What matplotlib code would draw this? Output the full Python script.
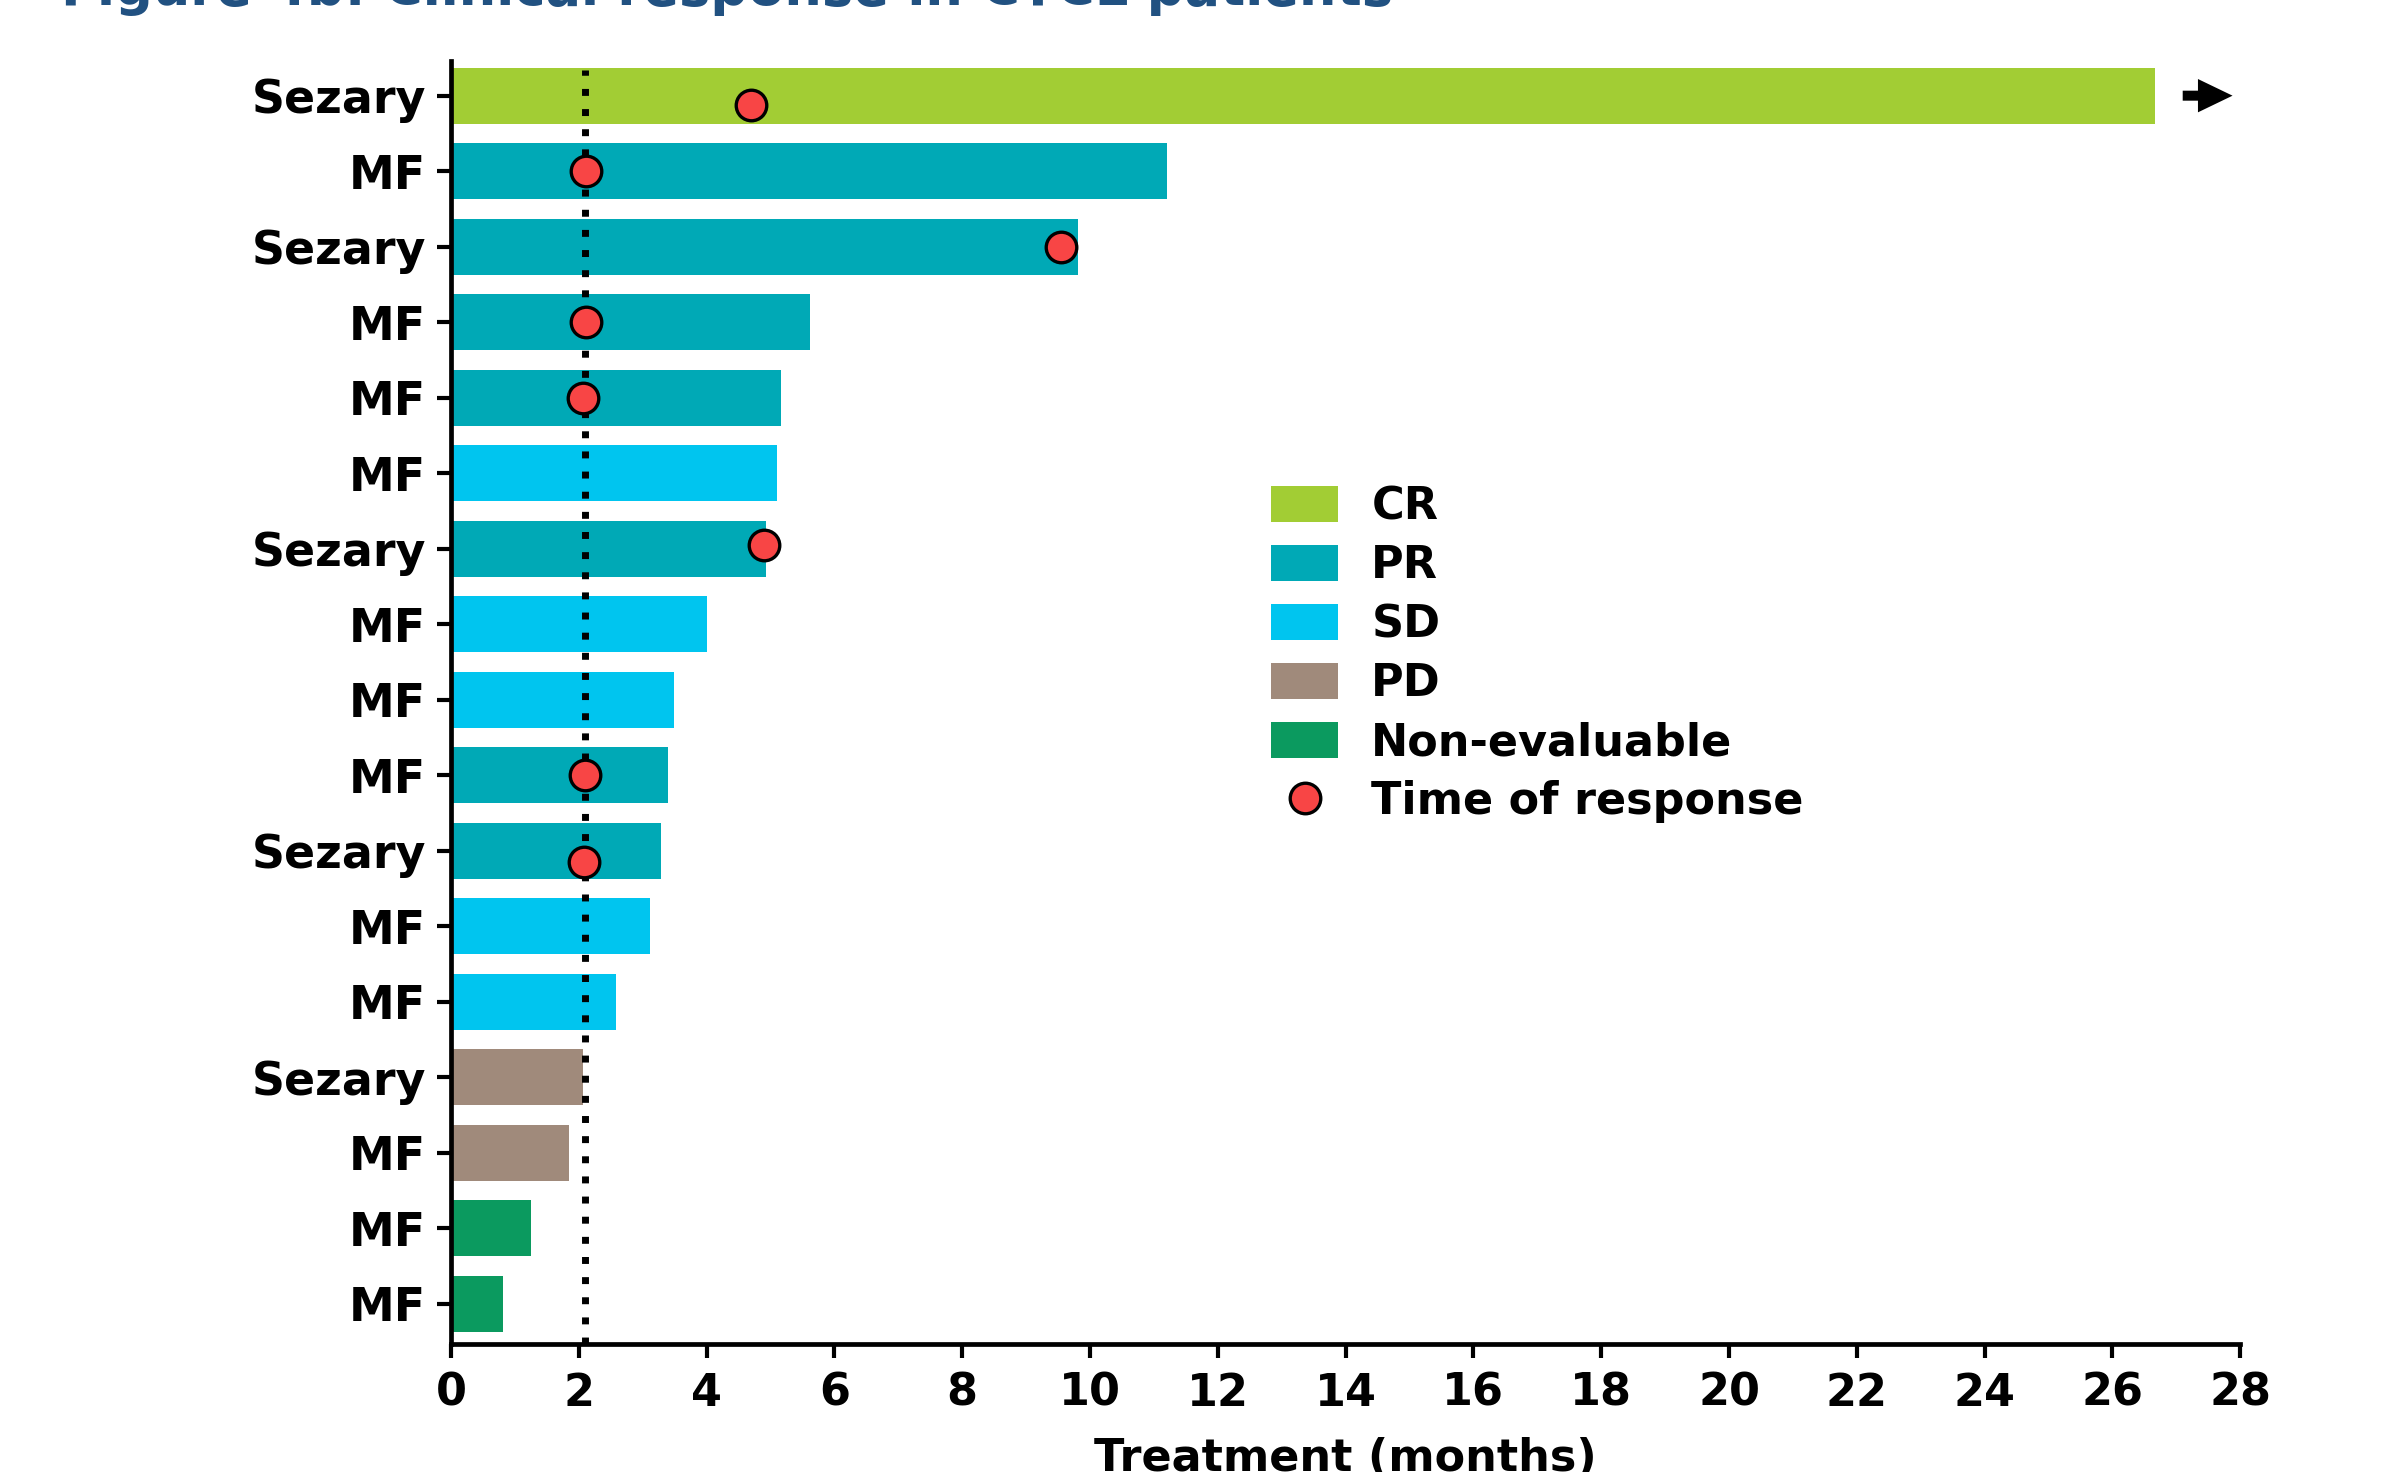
import matplotlib.pyplot as plt
from matplotlib.patches import Patch
from matplotlib.lines import Line2D

plt.rcParams['font.family'] = 'DejaVu Sans'
plt.rcParams['font.weight'] = 'bold'

# patients, top to bottom
subtype = ["Sezary", "MF", "Sezary", "MF", "MF", "MF", "Sezary", "MF", "MF",
           "MF", "Sezary", "MF", "MF", "Sezary", "MF", "MF", "MF"]
response = ["CR", "PR", "PR", "PR", "PR", "SD", "PR", "SD", "SD",
            "PR", "PR", "SD", "SD", "PD", "PD", "NE", "NE"]
months = [26.66, 11.2, 9.81, 5.62, 5.17, 5.10, 4.93, 4.0, 3.49,
          3.40, 3.29, 3.11, 2.58, 2.06, 1.84, 1.25, 0.81]
# time of response (None = no response recorded)
resp_time = [4.69, 2.11, 9.55, 2.11, 2.06, None, 4.9, None, None,
             2.1, 2.08, None, None, None, None, None, None]
resp_shift = [-0.13, 0, 0, 0, 0, 0, 0.05, 0, 0,
              0, -0.15, 0, 0, 0, 0, 0, 0]
ongoing = [True] + [False] * 16
cutoff = 2.1

colors = {"CR": "#a2cd34", "PR": "#00a9b6", "SD": "#00c5ef",
          "PD": "#a08a7b", "NE": "#0b9a5f"}
legend_names = {"CR": "CR", "PR": "PR", "SD": "SD", "PD": "PD",
                "NE": "Non-evaluable"}

fig = plt.figure(figsize=(23.98, 14.72), dpi=100)
ax = fig.add_axes([0.1881, 0.0870, 0.7461, 0.8716])

n = len(months)
ypos = [n - 1 - i for i in range(n)]

ax.barh(ypos, months, height=0.74, color=[colors[r] for r in response], zorder=2)

ax.vlines(cutoff, -0.53, 16.34, colors='black', lw=5,
          linestyles=(0, (1, 1.9)), zorder=3)

for y, t, dy in zip(ypos, resp_time, resp_shift):
    if t is not None:
        ax.plot(t, y + dy, 'o', ms=22, mfc='#f84545', mec='black', mew=2.4, zorder=4)

for y, m, go in zip(ypos, months, ongoing):
    if go:
        ax.annotate('', xy=(27.88, y), xytext=(27.1, y),
                    arrowprops=dict(arrowstyle='simple,head_length=0.83,head_width=0.8,tail_width=0.24',
                                    color='black', lw=0, mutation_scale=30,
                                    shrinkA=0, shrinkB=0),
                    annotation_clip=False)

ax.set_xlim(0, 28)
ax.set_ylim(-0.53, 16.46)
ax.set_xticks(range(0, 29, 2))
ax.set_yticks(ypos)
ax.set_yticklabels(subtype)

ax.spines['top'].set_visible(False)
ax.spines['right'].set_visible(False)
ax.spines['left'].set_linewidth(3.4)
ax.spines['bottom'].set_linewidth(3.4)
ax.tick_params(axis='both', width=3, length=10, color='black')
ax.tick_params(axis='x', labelsize=32, pad=10)
ax.tick_params(axis='y', labelsize=33, pad=8)

ax.set_xlabel("Treatment (months)", fontsize=32, fontweight='bold', labelpad=16)

handles = [Patch(facecolor=colors[k], label=legend_names[k]) for k in colors]
handles.append(Line2D([], [], marker='o', ls='none', ms=22, mfc='#f84545',
                      mec='black', mew=2.4, label="Time of response"))
ax.legend(handles=handles, loc='upper left', bbox_to_anchor=(0.4485, 0.683),
          frameon=False, fontsize=32, handlelength=1.5, handleheight=0.85,
          handletextpad=0.75, labelspacing=0.36, borderaxespad=0)

fig.text(61 / 2398, 1 - 5 / 1472, "Figure 4b: Clinical response in CTCL patients",
         fontsize=38, fontweight='bold', color='#215181', ha='left', va='baseline')

fig.savefig("out.png", dpi=100)
